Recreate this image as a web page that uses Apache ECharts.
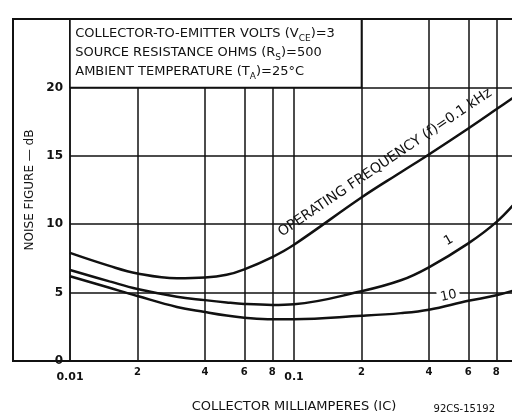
<!DOCTYPE html>
<html>
<head>
<meta charset="utf-8">
<script src="https://cdn.jsdelivr.net/npm/echarts@6/dist/echarts.min.js"></script>
<style>
  html, body { margin: 0; padding: 0; background: #fff; }
  #chart { width: 512px; height: 415px; }
</style>
</head>
<body>
<div id="chart"></div>
<script>
// collector current, mA (log axis)
const current = [0.01, 0.015, 0.02, 0.03, 0.04, 0.05, 0.06, 0.08, 0.1, 0.2, 0.3, 0.4, 0.6, 0.8, 1.0];
// noise figure, dB, one array per operating frequency
const nf01kHz = [7.9, 6.95, 6.4, 6.05, 6.1, 6.3, 6.7, 7.6, 8.5, 11.95, 13.8, 15.1, 17.0, 18.4, 19.5];
const nf1kHz = [6.65, 5.82, 5.26, 4.7, 4.45, 4.28, 4.17, 4.1, 4.15, 5.1, 5.9, 6.85, 8.6, 10.15, 11.8];
const nf10kHz = [6.2, 5.35, 4.75, 3.95, 3.58, 3.32, 3.17, 3.05, 3.05, 3.3, 3.5, 3.75, 4.4, 4.8, 5.25];

// x grid lines / tick labels
const xTicks = [0.01, 0.02, 0.04, 0.06, 0.08, 0.1, 0.2, 0.4, 0.6, 0.8, 1];
const xTickLabels = ['0.01', '2', '4', '6', '8', '0.1', '2', '4', '6', '8', ''];

// curve labels: [current, dB]
const labelF01 = [0.255, 14.5];
const labelF1 = [0.49, 8.8];
const labelF10 = [0.49, 4.75];

const ink = '#111';
const font = 'DejaVu Sans';

let chart = echarts.init(document.getElementById('chart'));

function pairs(ys) {
    return current.map((x, i) => [x, ys[i]]);
}

function curve(name, ys, extra) {
    return Object.assign({
        name: name,
        type: 'line',
        smooth: 0.4,
        symbol: 'none',
        data: pairs(ys),
        lineStyle: { color: ink, width: 2.5 },
        z: 3,
        silent: true,
    }, extra || {});
}

function curveLabel(coord, text, rotate, size, bg) {
    return {
        symbol: 'circle',
        symbolSize: 1,
        silent: true,
        itemStyle: { color: 'rgba(0,0,0,0)' },
        data: [{
            coord: coord,
            label: {
                show: true,
                position: 'inside',
                formatter: text,
                rotate: rotate,
                color: ink,
                fontFamily: font,
                fontSize: size,
                backgroundColor: bg || 'transparent',
                padding: bg ? [0, 3] : 0,
            }
        }]
    };
}

let option = {
    animation: false,
    backgroundColor: '#fff',
    grid: {
        left: 70,
        right: -6,
        top: 19,
        bottom: 54,
        outerBoundsMode: 'none',
        containLabel: false,
    },
    xAxis: {
        type: 'log',
        logBase: 10,
        min: 0.01,
        max: 1,
        name: 'COLLECTOR MILLIAMPERES (IC)',
        nameLocation: 'middle',
        nameGap: 39,
        nameTextStyle: { color: ink, fontFamily: font, fontSize: 13 },
        axisLine: { show: true, lineStyle: { color: ink, width: 2 } },
        axisTick: { show: false, customValues: xTicks },
        axisLabel: {
            customValues: xTicks,
            margin: 6,
            formatter: function (v) {
                let i = xTicks.findIndex(t => Math.abs(t - v) / t < 1e-6);
                let s = i < 0 ? '' : xTickLabels[i];
                return s.indexOf('.') >= 0 ? '{b|' + s + '}' : '{s|' + s + '}';
            },
            rich: {
                b: { color: ink, fontFamily: font, fontSize: 11, fontWeight: 'bold', padding: [5, 0, 0, 0] },
                s: { color: ink, fontFamily: font, fontSize: 10, fontWeight: 'bold' },
            },
        },
        splitLine: { show: true, lineStyle: { color: ink, width: 1.5 } },
    },
    yAxis: {
        type: 'value',
        min: 0,
        max: 25,
        interval: 5,
        name: 'NOISE FIGURE — dB',
        nameLocation: 'middle',
        nameGap: 24,
        nameTextStyle: { color: ink, fontFamily: font, fontSize: 12 },
        axisLine: { show: true, lineStyle: { color: ink, width: 1.5 } },
        axisTick: { show: false },
        axisLabel: {
            color: ink,
            fontFamily: font,
            fontSize: 12,
            fontWeight: 'bold',
            margin: 7,
            formatter: v => (v === 25 ? '' : String(v)),
        },
        splitLine: { show: true, lineStyle: { color: ink, width: 1.5 } },
    },
    graphic: [
        {
            type: 'rect',
            shape: { x: 13, y: 19, width: 520, height: 342 },
            style: { fill: null, stroke: ink, lineWidth: 2 },
            z: 10,
            silent: true,
        },
        {
            type: 'text',
            right: 17,
            bottom: 1,
            style: { text: '92CS-15192', fill: ink, font: '10px "DejaVu Sans"' },
        },
    ],
    series: [
        curve('f = 0.1 kHz', nf01kHz, {
            markArea: {
                silent: true,
                itemStyle: { color: '#fff', borderColor: ink, borderWidth: 1.5 },
                label: {
                    show: true,
                    position: 'insideTopLeft',
                    distance: 0,
                    padding: [6, 0, 0, 6],
                    formatter: '{t|COLLECTOR-TO-EMITTER VOLTS (V}{s|CE}{t|)=3}\n' +
                        '{t|SOURCE RESISTANCE OHMS (R}{s|S}{t|)=500}\n' +
                        '{t|AMBIENT TEMPERATURE (T}{s|A}{t|)=25°C}',
                    rich: {
                        t: { color: ink, fontFamily: font, fontSize: 13, lineHeight: 19 },
                        s: { color: ink, fontFamily: font, fontSize: 9, verticalAlign: 'bottom' },
                    },
                },
                data: [[{ coord: [0.01, 20] }, { coord: [0.2, 25] }]],
            },
            markPoint: curveLabel(labelF01, 'OPERATING FREQUENCY (f)=0.1 kHz', 34, 14),
        }),
        curve('f = 1 kHz', nf1kHz, {
            markPoint: curveLabel(labelF1, '1', 30, 13),
        }),
        curve('f = 10 kHz', nf10kHz, {
            markPoint: curveLabel(labelF10, '10', 12, 13, '#fff'),
        }),
    ],
};

chart.setOption(option);
</script>
</body>
</html>
